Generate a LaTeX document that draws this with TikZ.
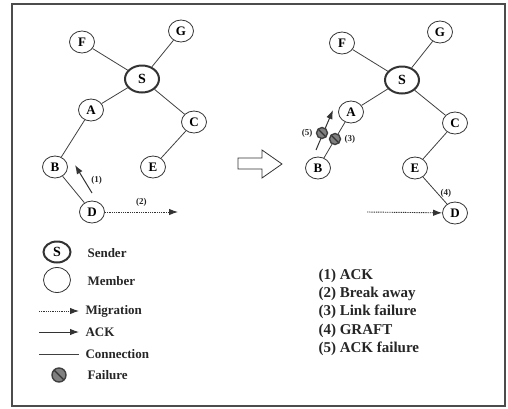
\documentclass[tikz,border=0pt]{standalone}
\usepackage{fontspec}
\setmainfont{Liberation Serif}
\usetikzlibrary{shapes.geometric,arrows.meta}

\tikzset{
	member/.style={shape=ellipse,draw=black!80,line width=0.8pt,minimum width=25pt,minimum height=22pt,inner sep=0pt,font=\fontsize{13}{13}\selectfont\bfseries},
	sender/.style={member,line width=2pt,minimum width=34pt,minimum height=27pt,font=\fontsize{14}{14}\selectfont\bfseries},
	fail/.style={shape=circle,draw=black!75,fill=black!50,line width=1.4pt,minimum size=11pt,inner sep=0pt,
		path picture={\draw[black!80,line width=1.4pt] (path picture bounding box.north west) -- (path picture bounding box.south east);}},
	lbl/.style={font=\fontsize{9}{9}\selectfont\bfseries,text=black!85},
	legend/.style={anchor=west,font=\fontsize{13}{13}\selectfont\bfseries,text=black!85},
	key/.style={anchor=west,font=\fontsize{15}{15}\selectfont\bfseries,text=black!85},
	conn/.style={draw=black!75,line width=0.8pt},
	ack/.style={draw=black!80,line width=1pt,-{Latex[length=9pt,width=6.5pt]}},
	migr/.style={draw=black!80,line width=0.9pt,dash pattern=on 1pt off 0.8pt,-{Latex[length=9pt,width=6.5pt]}}
}

\begin{document}
\begin{tikzpicture}[x=1pt,y=-1pt]
	\useasboundingbox (0,0) rectangle (508,408);
	\draw[black!70,line width=1.3pt] (12,4) rectangle (505,406);

	% before
	\node[member] (f1) at (82, 42)   {F};
	\node[member] (g1) at (181, 31)  {G};
	\node[sender] (s1) at (142, 79)  {S};
	\node[member] (a1) at (91, 110)  {A};
	\node[member] (c1) at (194, 122) {C};
	\node[member] (b1) at (55, 167)  {B};
	\node[member] (e1) at (153, 167) {E};
	\node[member] (d1) at (92, 212)  {D};

	\path[conn] (f1) edge (s1);
	\path[conn] (g1) edge (s1);
	\path[conn] (s1) edge (a1);
	\path[conn] (s1) edge (c1);
	\path[conn] (a1) edge (b1);
	\path[conn] (c1) edge (e1);
	\path[conn] (b1) edge (d1);

	\coordinate (ack1s) at (92, 193);
	\coordinate (ack1e) at (75, 165);
	\draw[ack] (ack1s) -- node[lbl,right,xshift=4pt,yshift=-1pt]{(1)} (ack1e);
	\coordinate (brk) at (178, 212);
	\draw[migr] (d1) -- node[lbl,above,yshift=2pt]{(2)} (brk);

	% transition
	\draw[black!80,line width=0.8pt] (238,158) -- (262,158) -- (262,150) -- (282,164)
		-- (262,178) -- (262,169) -- (238,169) -- cycle;

	% after
	\node[member] (f2) at (342, 43)  {F};
	\node[member] (g2) at (440, 32)  {G};
	\node[sender] (s2) at (402, 80)  {S};
	\node[member] (a2) at (351, 112) {A};
	\node[member] (c2) at (455, 123) {C};
	\node[member] (b2) at (318, 168) {B};
	\node[member] (e2) at (415, 168) {E};
	\node[member] (d2) at (455, 213) {D};

	\path[conn] (f2) edge (s2);
	\path[conn] (g2) edge (s2);
	\path[conn] (s2) edge (a2);
	\path[conn] (s2) edge (c2);
	\path[conn] (a2) edge (b2);
	\path[conn] (c2) edge (e2);
	\path[conn] (e2) edge node[lbl,right,xshift=2pt,yshift=-3pt]{(4)} (d2);

	\coordinate (ack5s) at (316, 150);
	\coordinate (ack5e) at (333, 110);
	\draw[ack] (ack5s) -- (ack5e);
	\node[fail] (x5) at (322, 133) {};
	\node[fail] (x3) at (335, 139) {};
	\node[lbl,left] at (x5.west) {(5)};
	\node[lbl,right] at (x3.east) {(3)};

	\coordinate (mig) at (367, 212);
	\draw[migr] (mig) -- (d2);

	% legend
	\node[sender,minimum width=27pt,minimum height=21pt] (ls) at (57, 252) {S};
	\node[member,minimum width=27pt,minimum height=25pt] (lm) at (57, 280) {};
	\coordinate (lmig1) at (39, 311);
	\coordinate (lmig2) at (79, 311);
	\coordinate (lack1) at (39, 332);
	\coordinate (lack2) at (79, 332);
	\coordinate (lcon1) at (39, 354);
	\coordinate (lcon2) at (79, 354);
	\draw[migr] (lmig1) -- (lmig2);
	\draw[ack] (lack1) -- (lack2);
	\path[conn] (lcon1) edge (lcon2);
	\node[fail,minimum size=14pt] (lf) at (59, 375) {};

	\node[legend] at (84, 253) {Sender};
	\node[legend] at (84, 281) {Member};
	\node[legend] at (82, 311) {Migration};
	\node[legend] at (82, 332) {ACK};
	\node[legend] at (82, 354) {Connection};
	\node[legend] at (84, 375) {Failure};

	\node[key] at (315, 276) {(1) ACK};
	\node[key] at (315, 294) {(2) Break away};
	\node[key] at (315, 312) {(3) Link failure};
	\node[key] at (315, 331) {(4) GRAFT};
	\node[key] at (315, 349) {(5) ACK failure};
\end{tikzpicture}
\end{document}
